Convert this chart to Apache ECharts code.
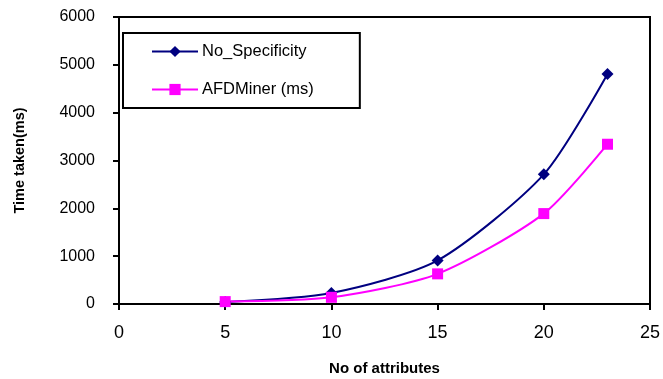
<!DOCTYPE html>
<html>
<head>
<meta charset="utf-8">
<script src="https://cdn.jsdelivr.net/npm/echarts@6/dist/echarts.min.js"></script>
<style>
* { margin: 0; padding: 0; }
#main { width: 663px; height: 379px; background: #fff; }
</style>
</head>
<body>
<div id="main"></div>
<script>
// values
var attrs = [5, 10, 15, 20, 23];
var noSpecificity = [40, 230, 910, 2710, 4810];
var afdMiner = [50, 140, 630, 1890, 3340];
var xTicks = [0, 5, 10, 15, 20, 25];
var yTicks = [0, 1000, 2000, 3000, 4000, 5000, 6000];

function pairs(xs, ys) {
  return xs.map(function (x, i) { return [x, ys[i]]; });
}

var chart = echarts.init(document.getElementById('main'));
var option = {
  animation: false,
  textStyle: { fontFamily: 'Liberation Sans, Arial, sans-serif' },
  grid: {
    left: 119, right: 13, top: 17, bottom: 75,
    containLabel: false,
    outerBoundsMode: 'none',
    show: true, borderColor: '#000', borderWidth: 2
  },
  legend: {
    orient: 'vertical',
    left: 123, top: 33,
    padding: [10, 46, 10, 28],
    itemGap: 21,
    itemWidth: 46, itemHeight: 14,
    borderColor: '#000', borderWidth: 2,
    backgroundColor: '#fff',
    textStyle: { fontSize: 16.5, color: '#000', padding: [0, 0, 0, -1] },
    data: ['No_Specificity', 'AFDMiner (ms)']
  },
  xAxis: {
    type: 'value',
    min: 0, max: 25, interval: 5,
    name: 'No of attributes',
    nameLocation: 'middle',
    nameGap: 57,
    nameTextStyle: { fontSize: 15, fontWeight: 'bold', color: '#000' },
    axisLine: { lineStyle: { color: '#000', width: 2 } },
    axisTick: { inside: false, length: 6, lineStyle: { color: '#000', width: 2 } },
    axisLabel: {
      fontSize: 18, color: '#000', margin: 20,
      formatter: function (v) { return xTicks.indexOf(v) >= 0 ? String(v) : ''; }
    },
    splitLine: { show: false }
  },
  yAxis: {
    type: 'value',
    min: 0, max: 6000, interval: 1000,
    name: 'Time taken(ms)',
    nameLocation: 'middle',
    nameGap: 92,
    nameTextStyle: { fontSize: 14.5, fontWeight: 'bold', color: '#000' },
    axisLine: { show: true, lineStyle: { color: '#000', width: 2 } },
    axisTick: { show: true, inside: false, length: 6, lineStyle: { color: '#000', width: 2 } },
    axisLabel: {
      fontSize: 16, color: '#000', margin: 24,
      formatter: function (v) { return yTicks.indexOf(v) >= 0 ? String(v) : ''; }
    },
    splitLine: { show: false }
  },
  series: [
    {
      name: 'No_Specificity',
      type: 'line',
      smooth: 0.25,
      data: pairs(attrs, noSpecificity),
      symbol: 'diamond',
      symbolSize: 12,
      color: '#000080',
      lineStyle: { color: '#000080', width: 2 },
      itemStyle: { color: '#000080' }
    },
    {
      name: 'AFDMiner (ms)',
      type: 'line',
      smooth: 0.25,
      data: pairs(attrs, afdMiner),
      symbol: 'rect',
      symbolSize: 11,
      color: '#ff00ff',
      lineStyle: { color: '#ff00ff', width: 2 },
      itemStyle: { color: '#ff00ff' }
    }
  ]
};
chart.setOption(option);
</script>
</body>
</html>
